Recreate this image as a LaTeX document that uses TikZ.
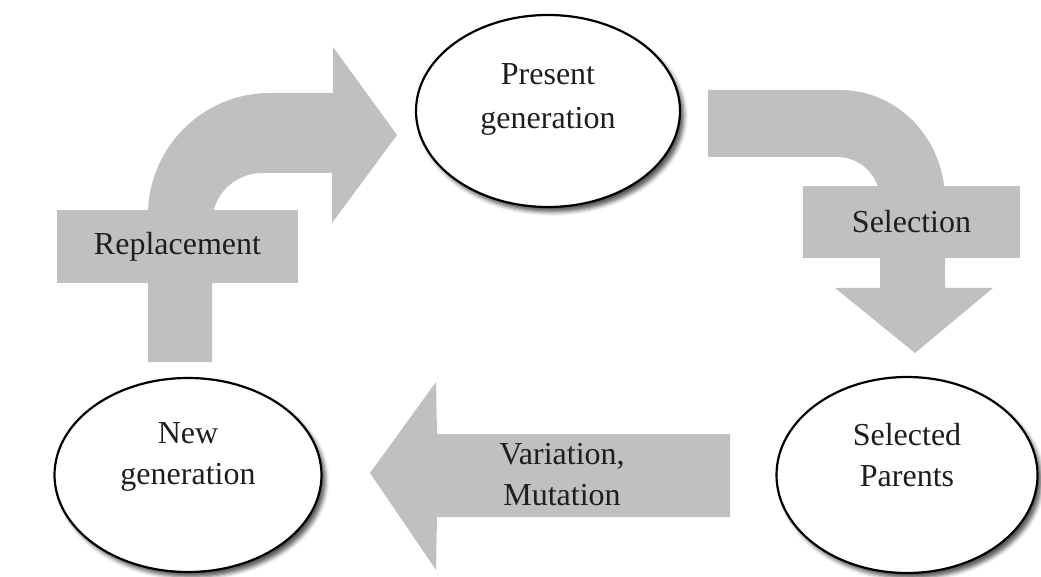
\documentclass[tikz,border=0pt]{standalone}
\usepackage{fontspec}
\setmainfont{Liberation Serif}
\usetikzlibrary{shapes.geometric,shadows.blur}
\definecolor{arrowgray}{RGB}{192,192,192}
\definecolor{txt}{RGB}{30,30,30}
\begin{document}
\begin{tikzpicture}[x=1pt,y=-1pt,
  gen/.style={ellipse, draw=black, line width=2.2pt, fill=white, inner sep=0pt,
    blur shadow={shadow xshift=4pt, shadow yshift=-5pt, shadow blur radius=4pt, shadow opacity=65}},
  lbl/.style={align=center, text=txt, inner sep=0pt, font=\fontsize{32}{41}\selectfont},
  blockarrow/.style={fill=arrowgray, draw=none},
  tag/.style={fill=arrowgray, draw=none, inner sep=0pt, align=center, text=txt, font=\fontsize{32}{41}\selectfont}]
\useasboundingbox (0,0) rectangle (1041,577);

% block arrows
\fill[blockarrow] (148,362) -- (148,215) arc[start angle=180, end angle=90, radius=122pt]
  -- (333,93) -- (333,47) -- (397,135) -- (332,223) -- (332,173) -- (262,173)
  arc[start angle=90, end angle=180, radius=50pt] -- (212,362) -- cycle;
\fill[blockarrow] (708,90) -- (840,90) arc[start angle=90, end angle=0, x radius=105pt, y radius=110pt]
  -- (945,288) -- (993,288) -- (915,353) -- (835,288) -- (880,288) -- (880,200)
  arc[start angle=0, end angle=90, radius=43pt] -- (708,157) -- cycle;
\fill[blockarrow] (730,434) -- (437,434) -- (436,382) -- (370,473) -- (436,570)
  -- (437,517) -- (730,517) -- cycle;

% label boxes
\node[tag, minimum width=241pt, minimum height=73pt] (repl) at (177.5,246.5) {Replacement};
\node[tag, minimum width=217pt, minimum height=72pt] (sel) at (911.5,222) {Selection};
\node[lbl] (var) at (562,475) {Variation,\\Mutation};

% generations
\node[gen, minimum width=264pt, minimum height=192pt] (pg) at (548,111) {};
\node[gen, minimum width=267pt, minimum height=194pt] (ng) at (188,475) {};
\node[gen, minimum width=261pt, minimum height=196pt] (sp) at (907,475) {};
\node[lbl, font=\fontsize{32}{44}\selectfont] (pgt) at ([yshift=12pt]pg.center) {Present\\generation};
\node[lbl] (ngt) at ([yshift=18pt]ng.center) {New\\generation};
\node[lbl] (spt) at ([yshift=20pt]sp.center) {Selected\\Parents};
\end{tikzpicture}
\end{document}
